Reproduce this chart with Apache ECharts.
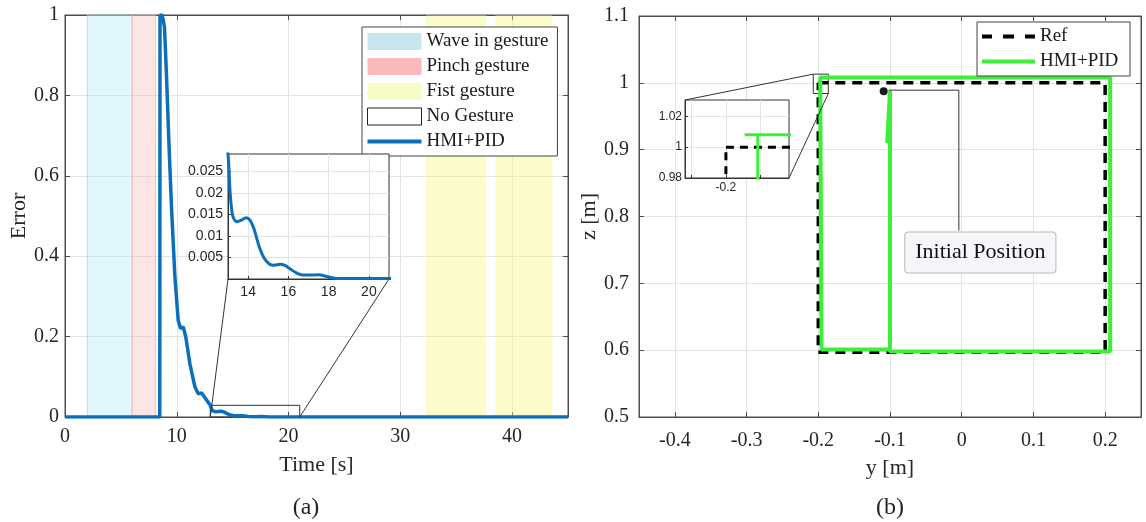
<!DOCTYPE html>
<html>
<head>
<meta charset="utf-8">
<title>HMI+PID error and trajectory</title>
<script src="https://cdn.jsdelivr.net/npm/echarts@6/dist/echarts.min.js"></script>
<style>
  html, body { margin: 0; padding: 0; background: #fff; }
  #chart { width: 1146px; height: 522px; }
</style>
</head>
<body>
<div id="chart"></div>
<script>
// ---- (a) error over time ----
const timeS = [0, 8.48, 8.5, 8.7, 8.9, 9.08, 9.3, 9.53, 9.83, 10.13, 10.34, 10.58, 10.8, 11.17, 11.62, 11.92,
  12.22, 12.67, 13.0, 13.1, 13.2, 13.3, 13.45, 13.65, 13.9, 14.1, 14.3, 14.55, 14.8, 15.05, 15.3, 15.6, 15.85,
  16.1, 16.4, 16.7, 17.1, 17.5, 17.9, 18.3, 19, 21, 45];
const errorVal = [0, 0, 1.0, 1.0, 0.97, 0.85, 0.68, 0.52, 0.35, 0.24, 0.22, 0.224, 0.2, 0.133, 0.075, 0.058,
  0.06, 0.042, 0.029, 0.0205, 0.0155, 0.0139, 0.0133, 0.0136, 0.0142, 0.0136, 0.0115, 0.0075, 0.0048, 0.0035,
  0.0032, 0.0034, 0.0031, 0.0023, 0.0014, 0.0009, 0.0009, 0.001, 0.0006, 0.0002, 0.0001, 0.0001, 0];
// gesture intervals [start, end] (s)
const waveIn = [[2, 6]];
const pinch = [[6, 8.1]];
const fist = [[32.3, 37.7], [38.5, 43.6]];
// zoomed window of (a), also the inset range
const zoomT = [13, 21];
const zoomE = [0, 0.029];
const insetTTicks = [14, 16, 18, 20];
const insetETicks = [0.005, 0.01, 0.015, 0.02, 0.025];

// ---- (b) trajectory in the y-z plane ----
const refY = [-0.2, 0.2, 0.2, -0.2, -0.2];
const refZ = [1.0, 1.0, 0.597, 0.597, 1.0];
const hmiY = [-0.104, -0.100, -0.100, 0.207, 0.207, -0.1973, -0.1954, -0.1954, -0.100];
const hmiZ = [0.910, 0.988, 0.598, 0.598, 1.008, 1.008, 1.008, 0.601, 0.601];
const yTicksB = [-0.4, -0.3, -0.2, -0.1, 0, 0.1, 0.2];
const startYZ = [-0.1088, 0.9873];
const arrowY = [-0.004, -0.004, -0.102];
const arrowZ = [0.779, 0.989, 0.989];
const noteYZ = [0.026, 0.746];
const zoomBY = [-0.207, -0.186];
const zoomBZ = [0.984, 1.013];
const insetBY = [-0.2059, -0.1909];
const insetBZ = [0.98, 1.0306];
const insetBYTicks = [-0.205, -0.2, -0.195];
const insetBYLabels = [-0.2];
const insetBZTicks = [0.98, 1, 1.02];

const pairs = (xs, ys) => xs.map((x, i) => [x, ys[i]]);

const serif = 'Liberation Serif';
const sans = 'Liberation Sans';
const axisGray = '#4d4d4d';
const gridGray = '#e3e3e3';
const textDark = '#262626';
const blue = '#0c6fbb';
const green = '#3cf03a';

const chart = echarts.init(document.getElementById('chart'));

function tickAxis(grid, pos, min, max, interval, custom) {
    // extra axis only for the MATLAB-style ticks on the top / right border
    return {
        type: 'value', gridIndex: grid, position: pos, min: min, max: max, interval: interval,
        axisLine: {show: true, onZero: false, lineStyle: {color: axisGray}},
        axisTick: {show: true, inside: true, length: 5, lineStyle: {color: axisGray}, customValues: custom},
        axisLabel: {show: false},
        splitLine: {show: false}
    };
}

chart.setOption({
    animation: false,
    grid: [
        {left: 65, top: 15, width: 503, height: 402, show: true, borderColor: axisGray, borderWidth: 1},
        {left: 228, top: 154, width: 161, height: 125, show: true, backgroundColor: '#fff', borderColor: '#333', borderWidth: 1, z: 5},
        {left: 639, top: 16, width: 502, height: 401, show: true, borderColor: axisGray, borderWidth: 1},
        {left: 685, top: 100, width: 104, height: 78, show: true, backgroundColor: '#fff', borderColor: '#333', borderWidth: 1, z: 5}
    ],
    xAxis: [
        {
            type: 'value', gridIndex: 0, min: 0, max: 45, interval: 10,
            name: 'Time [s]', nameLocation: 'middle', nameGap: 37,
            nameTextStyle: {fontFamily: serif, fontSize: 22, color: textDark},
            axisLine: {show: true, onZero: false, lineStyle: {color: axisGray}},
            axisTick: {show: true, inside: true, length: 5, lineStyle: {color: axisGray}},
            axisLabel: {fontFamily: serif, fontSize: 20, color: textDark, margin: 10, showMaxLabel: false},
            splitLine: {show: true, lineStyle: {color: gridGray}}
        },
        {
            type: 'value', gridIndex: 1, min: zoomT[0], max: zoomT[1], z: 6,
            axisLine: {show: true, onZero: false, lineStyle: {color: '#333'}},
            axisTick: {show: true, inside: true, length: 3, lineStyle: {color: '#333'}, customValues: insetTTicks},
            axisLabel: {fontFamily: sans, fontSize: 14, color: textDark, margin: 6, customValues: insetTTicks},
            splitLine: {show: true, lineStyle: {color: gridGray}}
        },
        {
            type: 'value', gridIndex: 2, min: -0.45, max: 0.25,
            name: 'y [m]', nameLocation: 'middle', nameGap: 40,
            nameTextStyle: {fontFamily: serif, fontSize: 22, color: textDark},
            axisLine: {show: true, onZero: false, lineStyle: {color: axisGray}},
            axisTick: {show: true, inside: true, length: 5, lineStyle: {color: axisGray}, customValues: yTicksB},
            axisLabel: {fontFamily: serif, fontSize: 20, color: textDark, margin: 14, customValues: yTicksB},
            splitLine: {show: true, lineStyle: {color: gridGray}}
        },
        {
            type: 'value', gridIndex: 3, min: insetBY[0], max: insetBY[1], z: 6,
            axisLine: {show: true, onZero: false, lineStyle: {color: '#333'}},
            axisTick: {show: true, inside: true, length: 3, lineStyle: {color: '#333'}, customValues: insetBYTicks},
            axisLabel: {fontFamily: sans, fontSize: 12, color: textDark, margin: 4, customValues: insetBYLabels},
            splitLine: {show: true, lineStyle: {color: gridGray}}
        },
        tickAxis(0, 'top', 0, 45, 10),
        tickAxis(2, 'top', -0.45, 0.25, undefined, yTicksB)
    ],
    yAxis: [
        {
            type: 'value', gridIndex: 0, min: 0, max: 1, interval: 0.2,
            name: 'Error', nameLocation: 'middle', nameGap: 34,
            nameTextStyle: {fontFamily: serif, fontSize: 22, color: textDark},
            axisLine: {show: true, onZero: false, lineStyle: {color: axisGray}},
            axisTick: {show: true, inside: true, length: 5, lineStyle: {color: axisGray}},
            axisLabel: {fontFamily: serif, fontSize: 20, color: textDark, margin: 6},
            splitLine: {show: true, lineStyle: {color: gridGray}}
        },
        {
            type: 'value', gridIndex: 1, min: zoomE[0], max: zoomE[1], z: 6,
            axisLine: {show: true, onZero: false, lineStyle: {color: '#333'}},
            axisTick: {show: true, inside: true, length: 3, lineStyle: {color: '#333'}, customValues: insetETicks},
            axisLabel: {fontFamily: sans, fontSize: 14, color: textDark, margin: 5, customValues: insetETicks},
            splitLine: {show: true, lineStyle: {color: gridGray}}
        },
        {
            type: 'value', gridIndex: 2, min: 0.5, max: 1.1, interval: 0.1,
            name: 'z [m]', nameLocation: 'middle', nameGap: 34,
            nameTextStyle: {fontFamily: serif, fontSize: 22, color: textDark},
            axisLine: {show: true, onZero: false, lineStyle: {color: axisGray}},
            axisTick: {show: true, inside: true, length: 5, lineStyle: {color: axisGray}},
            axisLabel: {fontFamily: serif, fontSize: 20, color: textDark, margin: 10},
            splitLine: {show: true, lineStyle: {color: gridGray}}
        },
        {
            type: 'value', gridIndex: 3, min: insetBZ[0], max: insetBZ[1], z: 6,
            axisLine: {show: true, onZero: false, lineStyle: {color: '#333'}},
            axisTick: {show: true, inside: true, length: 3, lineStyle: {color: '#333'}, customValues: insetBZTicks},
            axisLabel: {fontFamily: sans, fontSize: 12, color: textDark, margin: 3, customValues: insetBZTicks},
            splitLine: {show: true, lineStyle: {color: gridGray}}
        },
        tickAxis(0, 'right', 0, 1, 0.2),
        tickAxis(2, 'right', 0.5, 1.1, 0.1)
    ],
    legend: [
        {
            orient: 'vertical', left: 362, top: 27, itemWidth: 54, itemHeight: 17, itemGap: 6,
            padding: [5, 9, 5, 5], backgroundColor: '#fff', borderColor: '#444', borderWidth: 1,
            selectedMode: false,
            textStyle: {fontFamily: serif, fontSize: 19, color: '#1a1a1a'},
            data: [
                {name: 'Wave in gesture', icon: 'rect', itemStyle: {borderWidth: 0}},
                {name: 'Pinch gesture', icon: 'rect', itemStyle: {borderWidth: 0}},
                {name: 'Fist gesture', icon: 'rect', itemStyle: {borderWidth: 0}},
                {name: 'No Gesture', icon: 'rect', itemStyle: {color: '#fff', borderColor: '#222', borderWidth: 1}},
                {name: 'HMI+PID', icon: 'path://M0,0H54V4H0Z', itemStyle: {borderWidth: 0}}
            ]
        },
        {
            orient: 'vertical', left: 977, top: 22, itemWidth: 53, itemHeight: 17, itemGap: 6,
            padding: [5, 7, 5, 5], backgroundColor: '#fff', borderColor: '#444', borderWidth: 1,
            selectedMode: false,
            textStyle: {fontFamily: serif, fontSize: 19, color: '#1a1a1a'},
            data: [
                {name: 'Ref', icon: 'path://M0,0H10V4H0Z M21,0H32V4H21Z M43,0H53V4H43Z', itemStyle: {borderWidth: 0}},
                {name: 'HMI+PID ', icon: 'path://M0,0H53V4H0Z', itemStyle: {borderWidth: 0}}
            ]
        }
    ],
    series: [
        {
            name: 'Wave in gesture', type: 'line', xAxisIndex: 0, yAxisIndex: 0, data: [], color: '#c6e7ed',
            markArea: {
                silent: true,
                itemStyle: {color: 'rgba(183,235,248,0.4)', borderColor: 'rgba(140,205,225,0.6)', borderWidth: 1},
                data: waveIn.map(r => [{xAxis: r[0]}, {xAxis: r[1]}])
            }
        },
        {
            name: 'Pinch gesture', type: 'line', xAxisIndex: 0, yAxisIndex: 0, data: [], color: '#fab9bb',
            markArea: {
                silent: true,
                itemStyle: {color: 'rgba(250,190,192,0.4)', borderColor: 'rgba(240,165,170,0.6)', borderWidth: 1},
                data: pinch.map(r => [{xAxis: r[0]}, {xAxis: r[1]}])
            }
        },
        {
            name: 'Fist gesture', type: 'line', xAxisIndex: 0, yAxisIndex: 0, data: [], color: '#f8fbc3',
            markArea: {
                silent: true,
                itemStyle: {color: 'rgba(243,248,125,0.4)'},
                data: fist.map(r => [{xAxis: r[0]}, {xAxis: r[1]}])
            }
        },
        {name: 'No Gesture', type: 'line', xAxisIndex: 0, yAxisIndex: 0, data: [], color: '#fff'},
        {
            name: 'HMI+PID', type: 'line', xAxisIndex: 0, yAxisIndex: 0, color: blue,
            symbol: 'none', data: pairs(timeS, errorVal),
            lineStyle: {width: 3.5, color: blue},
            markArea: {
                silent: true,
                itemStyle: {color: 'rgba(0,0,0,0)', borderColor: '#333', borderWidth: 1},
                data: [[{coord: [zoomT[0], zoomE[0]]}, {coord: [zoomT[1], zoomE[1]]}]]
            }
        },
        {
            name: 'HMI+PID', type: 'line', xAxisIndex: 1, yAxisIndex: 1, color: blue, z: 7,
            symbol: 'none', smooth: 0.3, data: pairs(timeS, errorVal),
            lineStyle: {width: 3, color: blue}
        },
        {
            name: 'Ref', type: 'line', xAxisIndex: 2, yAxisIndex: 2, color: '#000',
            symbol: 'none', data: pairs(refY, refZ),
            lineStyle: {width: 3.5, color: '#000', type: [10, 7]}
        },
        {
            name: 'HMI+PID ', type: 'line', xAxisIndex: 2, yAxisIndex: 2, color: green,
            symbol: 'none', data: pairs(hmiY, hmiZ),
            lineStyle: {width: 4, color: green},
            markArea: {
                silent: true,
                itemStyle: {color: 'rgba(0,0,0,0)', borderColor: '#333', borderWidth: 1},
                data: [[{coord: [zoomBY[0], zoomBZ[0]]}, {coord: [zoomBY[1], zoomBZ[1]]}]]
            }
        },
        {
            name: 'Ref', type: 'line', xAxisIndex: 3, yAxisIndex: 3, color: '#000', z: 7,
            symbol: 'none', data: pairs(refY, refZ),
            lineStyle: {width: 3, color: '#000', type: [8, 6]}
        },
        {
            name: 'HMI+PID ', type: 'line', xAxisIndex: 3, yAxisIndex: 3, color: green, z: 7,
            symbol: 'none', data: pairs(hmiY, hmiZ),
            lineStyle: {width: 3, color: green}
        },
        {
            name: 'note', type: 'lines', coordinateSystem: 'cartesian2d', xAxisIndex: 2, yAxisIndex: 2,
            polyline: true, silent: true, z: 4,
            symbol: ['none', 'arrow'], symbolSize: 9,
            lineStyle: {color: '#333', width: 1, opacity: 1},
            data: [{coords: pairs(arrowY, arrowZ)}]
        },
        {
            name: 'start', type: 'scatter', xAxisIndex: 2, yAxisIndex: 2, z: 5,
            symbolSize: 8, itemStyle: {color: '#1a1a1a', opacity: 1}, data: [startYZ]
        }
    ]
});

// connector lines between the zoom boxes and their insets, plus the note box
const px = (xi, yi, v) => chart.convertToPixel({xAxisIndex: xi, yAxisIndex: yi}, v);
const links = [
    [px(0, 0, [zoomT[0], zoomE[0]]), px(1, 1, [zoomT[0], zoomE[0]])],
    [px(0, 0, [zoomT[1], zoomE[0]]), px(1, 1, [zoomT[1], zoomE[0]])],
    [px(2, 2, [zoomBY[0], zoomBZ[1]]), px(3, 3, [insetBY[0], insetBZ[1]])],
    [px(2, 2, [zoomBY[1], zoomBZ[0]]), px(3, 3, [insetBY[1], insetBZ[0]])]
];
const graphics = links.map(l => ({
    type: 'line', z: 8, silent: true,
    shape: {x1: l[0][0], y1: l[0][1], x2: l[1][0], y2: l[1][1]},
    style: {stroke: '#333', lineWidth: 1}
}));
const notePx = px(2, 2, noteYZ);
graphics.push(
    {
        type: 'text', x: notePx[0], y: notePx[1], z: 8, silent: true,
        style: {
            text: 'Initial Position', font: '22px "Liberation Serif"', fill: '#111',
            align: 'center', verticalAlign: 'middle',
            backgroundColor: '#f5f5fa', borderColor: '#b8b8b8', borderWidth: 1,
            borderRadius: 3, padding: [9, 10, 9, 10]
        }
    },
    {type: 'text', x: 306, y: 508, style: {text: '(a)', font: '24px "Liberation Serif"', fill: textDark, align: 'center', verticalAlign: 'middle'}},
    {type: 'text', x: 890, y: 508, style: {text: '(b)', font: '24px "Liberation Serif"', fill: textDark, align: 'center', verticalAlign: 'middle'}}
);
chart.setOption({graphic: graphics});

window.addEventListener('resize', () => {
    chart.resize();
});
</script>
</body>
</html>
